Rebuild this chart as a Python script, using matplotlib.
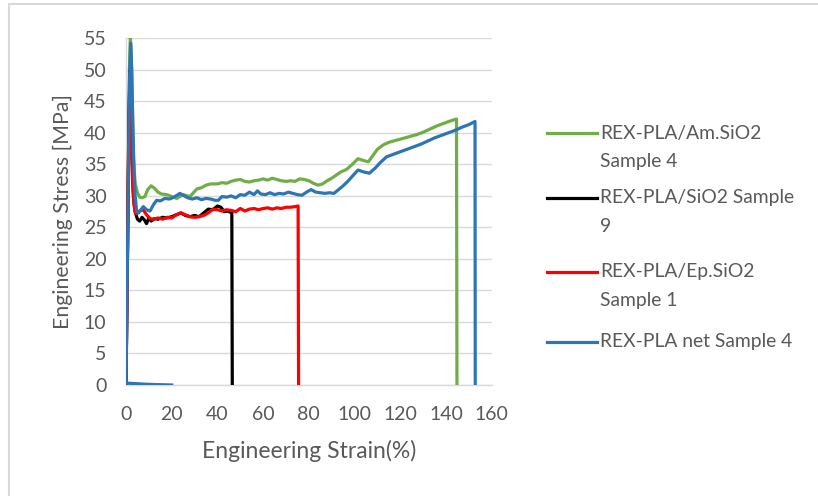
import matplotlib
matplotlib.use("Agg")
import matplotlib.pyplot as plt
from matplotlib.lines import Line2D
from matplotlib.patches import Rectangle

plt.rcParams["font.family"] = ["Lato", "DejaVu Sans"]

# Tensile curves: engineering strain (%) and engineering stress (MPa)
am_strain = [0, 0.8, 1.5, 1.9, 2.3, 2.8, 3.3, 4, 5, 6,
             7, 8.3, 9.5, 11, 12.5, 14, 15.5, 17.8, 20, 22.2,
             25, 28, 31, 33, 35, 37, 40, 42, 44, 46,
             48, 50, 52, 54, 56, 58, 60, 62, 64, 66,
             68, 70, 72, 74, 76, 78, 80, 82, 84, 86,
             88, 90, 92, 94, 96.5, 99, 101.5, 104, 106, 108,
             110, 112.6, 115, 118, 121, 124, 127, 130, 133, 136,
             139, 142, 144.6, 144.8]
am_stress = [0, 28, 50, 55.2, 53, 44, 36, 32, 30.5, 29.8,
             29.7, 29.9, 31.0, 31.6, 31.2, 30.6, 30.3, 30.2, 29.9, 29.6,
             30.2, 29.9, 31.1, 31.3, 31.7, 31.9, 31.9, 32.1, 32.0, 32.3,
             32.5, 32.6, 32.3, 32.2, 32.4, 32.5, 32.7, 32.5, 32.8, 32.6,
             32.4, 32.3, 32.4, 32.3, 32.7, 32.6, 32.4, 32.0, 31.7, 31.9,
             32.4, 32.8, 33.3, 33.8, 34.2, 35.0, 35.9, 35.6, 35.4, 36.4,
             37.4, 38.1, 38.5, 38.8, 39.1, 39.4, 39.7, 40.1, 40.6, 41.1,
             41.5, 41.9, 42.2, 0]

sio2_strain = [0, 0.7, 1.3, 1.8, 2.3, 2.8, 3.3, 4, 5, 6,
               7, 8, 9, 10, 11, 12.5, 14, 16, 18, 20,
               22, 24, 26, 28, 30, 32, 34, 36, 38, 40,
               41.5, 43, 44.5, 46.3, 46.5]
sio2_stress = [0, 22, 42, 50, 45, 36, 30, 27.5, 26.3, 26.0,
               26.6, 26.2, 25.6, 26.5, 26.0, 26.4, 26.3, 26.6, 26.5, 26.7,
               27.0, 27.3, 26.9, 26.7, 26.9, 26.7, 27.3, 27.9, 27.8, 28.4,
               28.2, 27.5, 27.6, 27.3, 0]

ep_strain = [0, 0.6, 1.2, 1.6, 2.0, 2.5, 3.0, 3.5, 4.2, 5,
             6, 7.5, 9, 10.5, 12, 14, 16, 18, 20, 22,
             24, 26, 28, 30, 32, 34, 36, 38, 40, 42,
             44, 46, 48, 50, 52, 54, 56, 58, 60, 62,
             64, 66, 68, 70, 72, 74, 75.3, 75.5]
ep_stress = [0, 20, 40, 48, 44, 36, 31, 28.5, 27.2, 27.3,
             27.6, 27.8, 27.0, 26.4, 26.3, 26.5, 26.3, 26.6, 26.5, 27.0,
             27.3, 27.0, 26.7, 26.6, 26.7, 26.9, 27.3, 27.9, 27.8, 27.6,
             27.8, 27.7, 27.5, 28.0, 27.6, 27.9, 28.0, 27.8, 28.0, 28.1,
             27.9, 28.1, 28.0, 28.2, 28.2, 28.3, 28.4, 0]

net_strain = [20, 10, 0, 0.8, 1.5, 2.0, 2.5, 3.0, 3.5, 4.0,
              4.7, 5.5, 6.5, 7.6, 9, 10.5, 12, 13.4, 15, 17,
              19, 21, 23.6, 25, 27, 29, 31, 33, 35, 37,
              39, 40.4, 42, 44, 46, 48, 50, 52, 54, 56,
              57.5, 59, 61, 63, 65, 67, 69, 71, 73, 75,
              77, 79, 81, 83, 85, 87, 89, 91, 93, 95,
              97, 99, 101.5, 104, 106.5, 109, 111, 114, 117, 120,
              123, 126, 129, 132, 135, 138, 141, 144, 147, 150,
              152.7, 152.8]
net_stress = [0, 0.1, 0.3, 25, 48, 54.2, 50, 41, 34, 30,
              27.5, 27.3, 27.8, 28.3, 27.8, 27.6, 28.6, 29.3, 29.2, 29.6,
              29.5, 29.8, 30.4, 30.1, 29.7, 29.5, 29.7, 29.4, 29.6, 29.5,
              29.3, 29.3, 29.9, 29.8, 30.0, 29.7, 30.2, 30.1, 30.6, 30.2,
              30.8, 30.3, 30.2, 30.5, 30.2, 30.4, 30.3, 30.6, 30.4, 30.2,
              30.1, 30.6, 31.0, 30.6, 30.5, 30.4, 30.5, 30.4, 31.0, 31.6,
              32.3, 33.1, 34.1, 33.8, 33.6, 34.4, 35.2, 36.2, 36.6, 37.0,
              37.4, 37.8, 38.2, 38.7, 39.2, 39.6, 40.0, 40.4, 40.9, 41.3,
              41.8, 0]

series_labels = ["REX-PLA/Am.SiO2\nSample 4",
                 "REX-PLA/SiO2 Sample\n9",
                 "REX-PLA/Ep.SiO2\nSample 1",
                 "REX-PLA net Sample 4"]
series_colors = ["#70AD47", "#000000", "#FF0000", "#2E75B6"]
series_data = [(am_strain, am_stress), (sio2_strain, sio2_stress),
               (ep_strain, ep_stress), (net_strain, net_stress)]

x_ticks = list(range(0, 161, 20))
y_ticks = list(range(0, 56, 5))

W, H = 818, 496
fig = plt.figure(figsize=(W / 100, H / 100), dpi=100)
fig.patch.set_facecolor("white")

# outer chart frame
fig.add_artist(Rectangle((9 / W, -0.05), 1.1, (H - 4) / H + 0.05,
                         transform=fig.transFigure, fill=False,
                         edgecolor="#D9D9D9", linewidth=1.5))

ax_left, ax_right = 126, 491.7
ax_top, ax_bottom = 38.3, 385
ax = fig.add_axes([ax_left / W, (H - ax_bottom) / H,
                   (ax_right - ax_left) / W, (ax_bottom - ax_top) / H])

for (xs, ys), c in zip(series_data, series_colors):
    ax.plot(xs, ys, color=c, linewidth=2.3, solid_joinstyle="round", zorder=3)

ax.set_xlim(0, 160)
ax.set_ylim(0, 55)
ax.set_xticks(x_ticks)
ax.set_yticks(y_ticks)
ax.grid(axis="y", color="#D9D9D9", linewidth=1.0, zorder=0)
for s in ["top", "right"]:
    ax.spines[s].set_visible(False)
for s in ["left", "bottom"]:
    ax.spines[s].set_color("#D9D9D9")
    ax.spines[s].set_linewidth(1.0)
ax.tick_params(axis="both", length=0, labelsize=14, labelcolor="#595959")
ax.tick_params(axis="x", pad=15)
ax.tick_params(axis="y", pad=14)
ax.set_xlabel("Engineering Strain(%)", fontsize=16.5, color="#595959", labelpad=12)
ax.set_ylabel("Engineering Stress [MPa]", fontsize=15.3, color="#595959", labelpad=8)

# legend on the right
entry_y = [133, 198, 271.5, 341.5]
for lab, c, yy in zip(series_labels, series_colors, entry_y):
    fig.add_artist(Line2D([547 / W, 597 / W], [(H - yy) / H] * 2,
                          transform=fig.transFigure, color=c, linewidth=2.3))
    fig.text(600 / W, (H - yy) / H, lab.split("\n")[0], fontsize=13.9,
             color="#595959", va="center", ha="left")
    if "\n" in lab:
        fig.text(600 / W, (H - yy - 28.7) / H, lab.split("\n")[1], fontsize=13.9,
                 color="#595959", va="center", ha="left")

fig.savefig("out.png", dpi=100, facecolor="white")
